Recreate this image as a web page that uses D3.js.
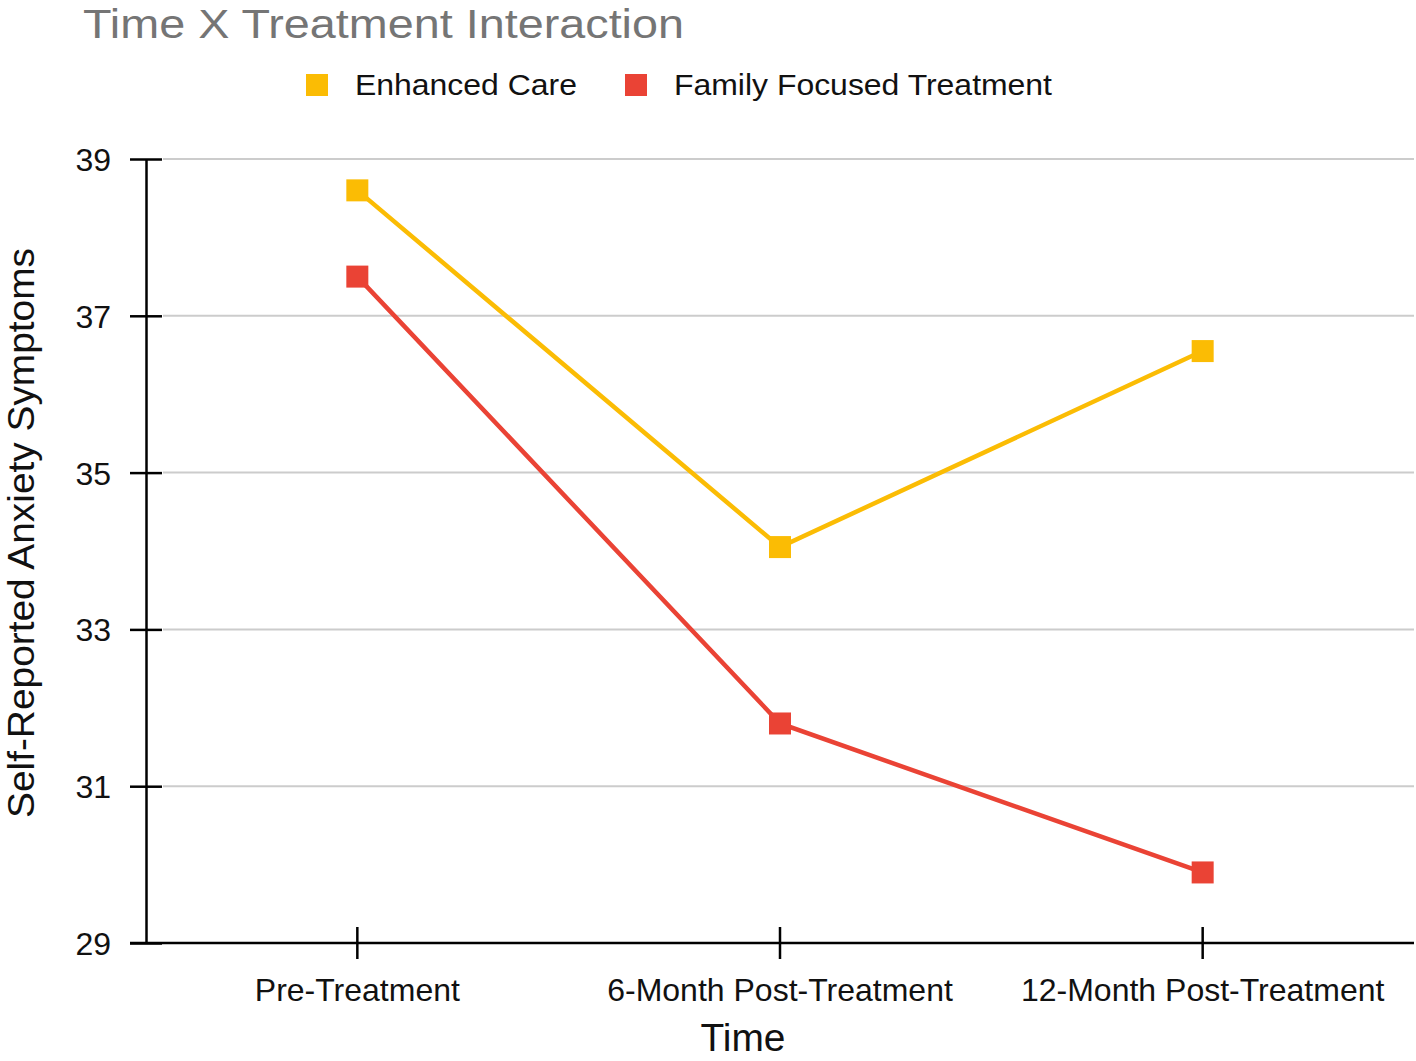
<!DOCTYPE html>
<html><head><meta charset="utf-8">
<script src="https://cdn.jsdelivr.net/npm/d3@7"></script>
<style>body{margin:0;background:#fff;} svg{display:block;font-family:"Liberation Sans",Arial,sans-serif;}</style>
</head><body>
<svg id="c" width="1416" height="1061"></svg>
<script>
const categories = ["Pre-Treatment", "6-Month Post-Treatment", "12-Month Post-Treatment"];
const seriesNames = ["Enhanced Care", "Family Focused Treatment"];
const enhancedCare = [38.6, 34.05, 36.55];
const familyFocused = [37.5, 31.8, 29.9];
const yTicks = [29, 31, 33, 35, 37, 39];
const colors = ["#FBBC04", "#EA4335"];

const svg = d3.select("#c");
const L = 146, R = 1414, T = 159, B = 943;
const x = d3.scaleBand().domain(categories).range([L, R]);
const y = d3.scaleLinear().domain([29, 39]).range([B, T]);

// grid
svg.append("g").selectAll("line").data(yTicks.filter(d => d !== 29)).join("line")
  .attr("x1", L + 17).attr("x2", R).attr("y1", d => y(d)).attr("y2", d => y(d))
  .attr("stroke", "#cccccc").attr("stroke-width", 2);

// y axis
const ya = svg.append("g").attr("transform", `translate(${L},0)`)
  .call(d3.axisLeft(y).tickValues(yTicks).tickSize(16).tickPadding(19).tickSizeOuter(0));
ya.select(".domain").attr("stroke", "#000").attr("stroke-width", 2.5);
ya.selectAll(".tick line").attr("x2", 16).attr("x1", -16).attr("stroke", "#000").attr("stroke-width", 2.5);
ya.selectAll(".tick text").attr("font-size", 32).attr("fill", "#111").attr("dy", "0.36em")
  .attr("font-family", "Liberation Sans, Arial, sans-serif");

// x axis
const xa = svg.append("g").attr("transform", `translate(0,${B})`)
  .call(d3.axisBottom(x).tickSize(16).tickSizeOuter(0));
xa.select(".domain").attr("stroke", "#000").attr("stroke-width", 2.5).attr("d", `M${L-16},0H${R}`);
xa.selectAll(".tick line").attr("y1", -16).attr("y2", 16).attr("stroke", "#000").attr("stroke-width", 2.5);
xa.selectAll(".tick text").attr("font-size", 32).attr("fill", "#111").attr("y", 58).attr("dy", 0)
  .attr("font-family", "Liberation Sans, Arial, sans-serif");

// lines
const data = [enhancedCare, familyFocused];
const line = d3.line().x((d, i) => x(categories[i]) + x.bandwidth() / 2).y(d => y(d));
data.forEach((vals, s) => {
  svg.append("path").datum(vals).attr("d", line).attr("fill", "none")
    .attr("stroke", colors[s]).attr("stroke-width", 4.5);
  svg.append("g").selectAll("rect").data(vals).join("rect")
    .attr("x", (d, i) => x(categories[i]) + x.bandwidth() / 2 - 11)
    .attr("y", d => y(d) - 11).attr("width", 22).attr("height", 22)
    .attr("fill", colors[s]);
});

// title
svg.append("text").attr("x", 83).attr("y", 38).attr("font-size", 41).attr("fill", "#757575")
  .attr("textLength", 601).attr("lengthAdjust", "spacingAndGlyphs")
  .text("Time X Treatment Interaction");

// legend
const legX = [306, 625];
const legW = [222, 378];
seriesNames.forEach((n, i) => {
  svg.append("rect").attr("x", legX[i]).attr("y", 74).attr("width", 22).attr("height", 22).attr("fill", colors[i]);
  svg.append("text").attr("x", legX[i] + 49).attr("y", 95).attr("font-size", 29).attr("fill", "#111")
    .attr("textLength", legW[i]).attr("lengthAdjust", "spacingAndGlyphs").text(n);
});

// axis titles
svg.append("text").attr("x", 743).attr("y", 1051).attr("text-anchor", "middle")
  .attr("font-size", 38).attr("fill", "#111")
  .attr("textLength", 85).attr("lengthAdjust", "spacingAndGlyphs").text("Time");
svg.append("text").attr("transform", "translate(34,533) rotate(-90)").attr("text-anchor", "middle")
  .attr("font-size", 37).attr("fill", "#111")
  .attr("textLength", 570).attr("lengthAdjust", "spacingAndGlyphs").text("Self-Reported Anxiety Symptoms");
</script>
</body></html>
